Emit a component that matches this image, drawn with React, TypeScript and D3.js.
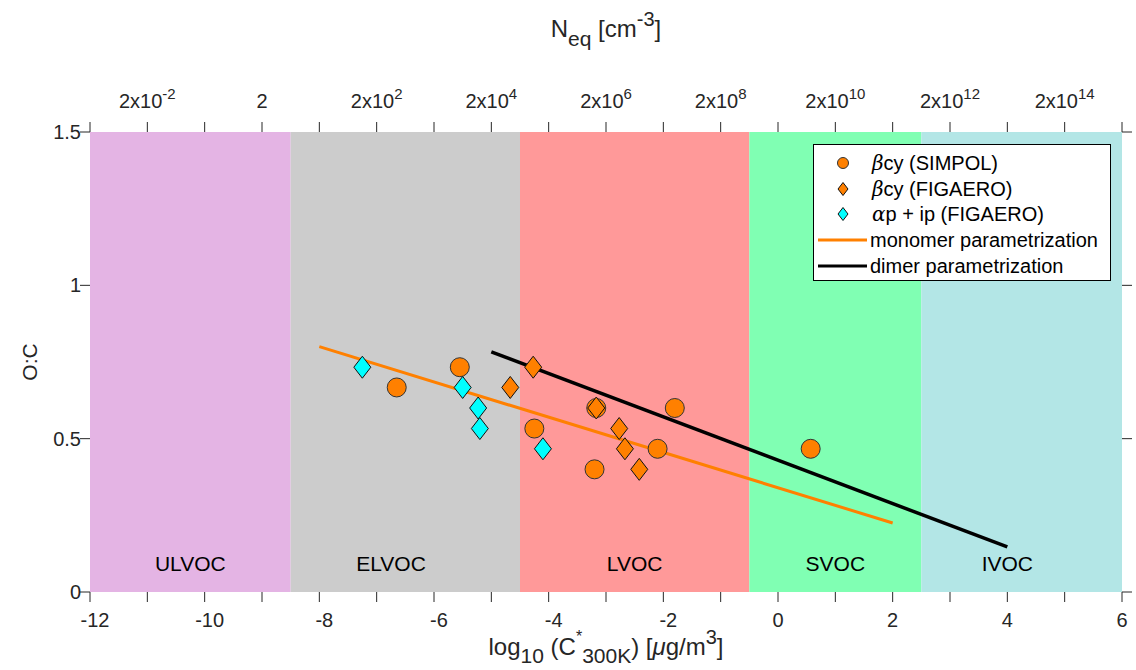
import React, { useRef, useEffect } from "react";
import * as d3 from "d3";

// volatility classes (log10 C* limits)
const bandNames = ["ULVOC", "ELVOC", "LVOC", "SVOC", "IVOC"];
const bandStart = [-12, -8.5, -4.5, -0.5, 2.5];
const bandEnd = [-8.5, -4.5, -0.5, 2.5, 6];
const bandColors = ["#E4B4E4", "#CCCCCC", "#FF9999", "#80FFB3", "#B3E6E6"];
const bandLabelX = [-10.25, -6.75, -2.5, 1, 4];

// bcy SIMPOL
const simpolX = [-6.65, -5.55, -4.25, -3.17, -3.2, -2.1, -1.8, 0.57];
const simpolY = [0.667, 0.733, 0.533, 0.6, 0.4, 0.467, 0.6, 0.467];
// bcy FIGAERO
const figBcyX = [-4.67, -4.27, -3.17, -2.77, -2.67, -2.42];
const figBcyY = [0.667, 0.733, 0.6, 0.533, 0.467, 0.4];
// ap + ip FIGAERO
const figApX = [-7.25, -5.5, -5.23, -5.2, -4.1];
const figApY = [0.733, 0.667, 0.6, 0.533, 0.467];

// parametrizations
const monomerX = [-8, 2];
const monomerY = [0.8, 0.225];
const dimerX = [-5, 4];
const dimerY = [0.783, 0.147];

const bottomTicks = [-12, -11, -10, -9, -8, -7, -6, -5, -4, -3, -2, -1, 0, 1, 2, 3, 4, 5, 6];
const bottomLabels = [-12, -10, -8, -6, -4, -2, 0, 2, 4, 6];
const topLabelPos = [-11, -9, -7, -5, -3, -1, 1, 3, 5];
const topLabelExp = ["-2", "", "2", "4", "6", "8", "10", "12", "14"];
const yTicks = [0, 0.5, 1, 1.5];
const yLabels = ["0", "0.5", "1", "1.5"];

const FONT = "'Liberation Sans', Arial, Helvetica, sans-serif";
const INK = "#262626";

const App = () => {
  const ref = useRef<SVGSVGElement>(null);

  useEffect(() => {
    const svg = d3.select(ref.current);
    svg.selectAll("*").remove();

    const left = 90, right = 1122, top = 132, bottom = 592;
    const x = d3.scaleLinear().domain([-12, 6]).range([left, right]);
    const y = d3.scaleLinear().domain([0, 1.5]).range([bottom, top]);

    // bands
    svg
      .selectAll(".band")
      .data(bandNames)
      .enter()
      .append("rect")
      .attr("x", (d, i) => x(bandStart[i]))
      .attr("y", top)
      .attr("width", (d, i) => x(bandEnd[i]) - x(bandStart[i]))
      .attr("height", bottom - top)
      .attr("fill", (d, i) => bandColors[i]);

    svg
      .selectAll(".bandLabel")
      .data(bandNames)
      .enter()
      .append("text")
      .attr("x", (d, i) => x(bandLabelX[i]))
      .attr("y", 571)
      .attr("text-anchor", "middle")
      .attr("font-family", FONT)
      .attr("font-size", "21px")
      .attr("fill", "#000")
      .text((d) => d);

    // ticks (outward)
    const tl = 10;
    const g = svg.append("g").attr("stroke", INK).attr("stroke-width", 1);
    bottomTicks.forEach((t) => {
      g.append("line").attr("x1", x(t)).attr("x2", x(t)).attr("y1", bottom).attr("y2", bottom + tl);
      g.append("line").attr("x1", x(t)).attr("x2", x(t)).attr("y1", top).attr("y2", top - tl);
    });
    yTicks.forEach((t) => {
      g.append("line").attr("x1", left).attr("x2", left - tl).attr("y1", y(t)).attr("y2", y(t));
      g.append("line").attr("x1", right).attr("x2", right + tl).attr("y1", y(t)).attr("y2", y(t));
    });

    // tick labels
    bottomLabels.forEach((t) => {
      svg
        .append("text")
        .attr("x", x(t) + (t < 0 ? 5 : 0))
        .attr("y", 627)
        .attr("text-anchor", "middle")
        .attr("font-family", FONT)
        .attr("font-size", "20px")
        .attr("fill", INK)
        .text(t < 0 ? "-" + Math.abs(t) : String(t));
    });
    yLabels.forEach((l, i) => {
      svg
        .append("text")
        .attr("x", 81)
        .attr("y", y(yTicks[i]) + 7)
        .attr("text-anchor", "end")
        .attr("font-family", FONT)
        .attr("font-size", "20px")
        .attr("fill", INK)
        .text(l);
    });
    topLabelPos.forEach((p, i) => {
      const t = svg
        .append("text")
        .attr("x", x(p))
        .attr("y", 108)
        .attr("text-anchor", "middle")
        .attr("font-family", FONT)
        .attr("font-size", "20px")
        .attr("fill", INK);
      if (topLabelExp[i] === "") {
        t.text("2");
      } else {
        t.append("tspan").text("2x10");
        t.append("tspan").attr("dy", -9).attr("font-size", "15px").text(topLabelExp[i]);
      }
    });

    // axis titles
    const xt = svg
      .append("text")
      .attr("x", 606)
      .attr("y", 655)
      .attr("text-anchor", "middle")
      .attr("font-family", FONT)
      .attr("font-size", "24px")
      .attr("fill", INK);
    xt.append("tspan").text("log");
    xt.append("tspan").attr("dy", 8).attr("font-size", "21px").text("10");
    xt.append("tspan").attr("dy", -8).text(" (C");
    xt.append("tspan").attr("dy", -13).attr("font-size", "16px").text("*");
    xt.append("tspan").attr("dy", 21).attr("dx", 0).attr("font-size", "21px").text("300K");
    xt.append("tspan").attr("dy", -8).text(") [");
    xt.append("tspan").attr("font-style", "italic").text("μ");
    xt.append("tspan").text("g/m");
    xt.append("tspan").attr("dy", -11).attr("font-size", "20px").text("3");
    xt.append("tspan").attr("dy", 11).text("]");

    const tt = svg
      .append("text")
      .attr("x", 606)
      .attr("y", 37)
      .attr("text-anchor", "middle")
      .attr("font-family", FONT)
      .attr("font-size", "24px")
      .attr("fill", INK);
    tt.append("tspan").text("N");
    tt.append("tspan").attr("dy", 9).attr("font-size", "21px").text("eq");
    tt.append("tspan").attr("dy", -9).text(" [cm");
    tt.append("tspan").attr("dy", -11).attr("font-size", "20px").text("-3");
    tt.append("tspan").attr("dy", 11).text("]");

    svg
      .append("text")
      .attr("transform", `translate(37,362) rotate(-90)`)
      .attr("text-anchor", "middle")
      .attr("font-family", FONT)
      .attr("font-size", "21px")
      .attr("fill", INK)
      .text("O:C");

    // parametrization lines
    svg
      .append("path")
      .attr("d", d3.line<number>().x((d) => x(d)).y((d, i) => y(monomerY[i]))(monomerX))
      .attr("stroke", "#FF8000")
      .attr("stroke-width", 3)
      .attr("fill", "none");
    svg
      .append("path")
      .attr("d", d3.line<number>().x((d) => x(d)).y((d, i) => y(dimerY[i]))(dimerX))
      .attr("stroke", "#000")
      .attr("stroke-width", 3.5)
      .attr("fill", "none");

    const diamond = (cx: number, cy: number, w: number, h: number) =>
      `M${cx},${cy - h}L${cx + w},${cy}L${cx},${cy + h}L${cx - w},${cy}Z`;

    // markers
    simpolX.forEach((v, i) => {
      svg
        .append("circle")
        .attr("cx", x(v))
        .attr("cy", y(simpolY[i]))
        .attr("r", 9.5)
        .attr("fill", "#FF8000")
        .attr("stroke", "#333")
        .attr("stroke-width", 1);
    });
    figBcyX.forEach((v, i) => {
      svg
        .append("path")
        .attr("d", diamond(x(v), y(figBcyY[i]), 8.5, 11))
        .attr("fill", "#FF8000")
        .attr("stroke", "#111")
        .attr("stroke-width", 1);
    });
    figApX.forEach((v, i) => {
      svg
        .append("path")
        .attr("d", diamond(x(v), y(figApY[i]), 8.5, 11))
        .attr("fill", "#00FFFF")
        .attr("stroke", "#111")
        .attr("stroke-width", 1);
    });

    // legend
    const lg = svg.append("g");
    lg.append("rect")
      .attr("x", 813.5)
      .attr("y", 144.5)
      .attr("width", 297)
      .attr("height", 136)
      .attr("fill", "#fff")
      .attr("stroke", "#000")
      .attr("stroke-width", 1);
    const rows = [163, 189, 214, 240, 266];
    lg.append("circle").attr("cx", 843).attr("cy", rows[0]).attr("r", 5.5).attr("fill", "#FF8000").attr("stroke", "#333");
    lg.append("path").attr("d", diamond(843, rows[1], 5, 6.5)).attr("fill", "#FF8000").attr("stroke", "#111");
    lg.append("path").attr("d", diamond(843, rows[2], 5, 6.5)).attr("fill", "#00FFFF").attr("stroke", "#111");
    lg.append("line").attr("x1", 818).attr("x2", 867).attr("y1", rows[3]).attr("y2", rows[3]).attr("stroke", "#FF8000").attr("stroke-width", 3);
    lg.append("line").attr("x1", 818).attr("x2", 867).attr("y1", rows[4]).attr("y2", rows[4]).attr("stroke", "#000").attr("stroke-width", 3);
    const legendText = [
      ["β", "cy (SIMPOL)"],
      ["β", "cy (FIGAERO)"],
      ["α", "p + ip (FIGAERO)"],
      ["", "monomer parametrization"],
      ["", "dimer parametrization"],
    ];
    legendText.forEach(([greek, rest], i) => {
      const t = lg
        .append("text")
        .attr("x", i < 3 ? 872 : 870)
        .attr("y", rows[i] + 7)
        .attr("font-family", FONT)
        .attr("font-size", "20px")
        .attr("fill", "#000");
      if (greek) t.append("tspan").attr("font-style", "italic").attr("font-family", "'DejaVu Serif', serif").text(greek);
      t.append("tspan").text(rest);
    });
  }, []);

  return (
    <svg
      ref={ref}
      width={1136}
      height={670}
      style={{ position: "absolute", left: 0, top: 0, background: "#fff" }}
    ></svg>
  );
};

export default App;
